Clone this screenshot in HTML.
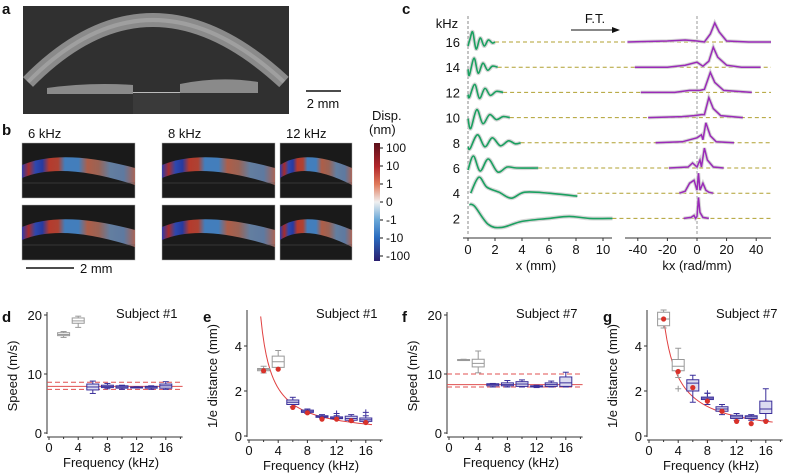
<!DOCTYPE html>
<html><head><meta charset="utf-8"><style>
body{margin:0;background:#fff}
svg{display:block;font-family:"Liberation Sans",sans-serif}
</style></head><body>
<svg id="fig" width="786" height="475" viewBox="0 0 786 475" xmlns="http://www.w3.org/2000/svg">
<defs>
<linearGradient id="cbar" x1="0" y1="0" x2="0" y2="1">
<stop offset="0" stop-color="#5a0f1a"/><stop offset="0.2" stop-color="#b3262b"/><stop offset="0.35" stop-color="#e07a5a"/><stop offset="0.5" stop-color="#f0f0f0"/><stop offset="0.65" stop-color="#6aa8d8"/><stop offset="0.8" stop-color="#2a6cc0"/><stop offset="1" stop-color="#2a1e6e"/>
</linearGradient>
<linearGradient id="stripe" x1="0" y1="0" x2="1" y2="0">
<stop offset="0" stop-color="#3040c0"/><stop offset="0.06" stop-color="#c03030"/><stop offset="0.12" stop-color="#3050c8"/><stop offset="0.18" stop-color="#2840b8"/><stop offset="0.24" stop-color="#d04030"/><stop offset="0.32" stop-color="#c84a38"/><stop offset="0.38" stop-color="#4a90d8"/><stop offset="0.5" stop-color="#4a90d8"/><stop offset="0.58" stop-color="#c86a50"/><stop offset="0.68" stop-color="#b07060"/><stop offset="0.78" stop-color="#7090b8"/><stop offset="0.9" stop-color="#6a8ab8"/><stop offset="1" stop-color="#c07060"/>
</linearGradient>
</defs>
<g id="root"></g>
</svg>
<script>
// ---------- panel c data ----------
const cFreqs = [16,14,12,10,8,6,4,2];
const greenPts = [
 [[0,-4],[0.15,3],[0.35,10],[0.6,-7],[0.9,4],[1.2,-4],[1.5,2],[1.8,-1],[2.0,0]],
 [[0,-2],[0.1,-8],[0.45,9],[0.75,-6],[1.1,4],[1.45,-3],[1.8,1],[2.2,0]],
 [[0,-2],[0.1,-5],[0.5,8],[0.85,-6],[1.25,4],[1.65,-3],[2.1,1],[2.6,0]],
 [[0,-1],[0.2,-11],[0.65,8],[1.1,-6],[1.6,3],[2.1,-2],[2.6,1],[3.1,0]],
 [[0,-4],[0.15,-6],[0.7,8],[1.25,-4],[1.8,5],[2.4,-3],[3.0,2],[3.5,-1],[3.9,0]],
 [[0,-2],[0.4,12],[0.9,-3],[1.5,9],[2.2,-4],[2.9,1],[3.6,0],[5.2,0]],
 [[0.2,0],[0.8,16],[1.4,6],[2.3,1],[3.2,-5],[4.2,1],[6,0],[8.1,-3]],
 [[0.1,14],[0.5,12],[1.5,-6],[2.5,-9],[4,-3],[6,0],[7.5,2],[9,0],[10.7,0]]
];
const purplePts = [
 [[-47,0],[-20,1],[-8,2],[0,1],[5,0],[9,8],[12,19],[15,10],[20,1],[35,0],[50,0]],
 [[-42,0],[-20,0],[-8,2],[0,5],[4,1],[8,6],[11,20],[14,10],[20,2],[30,0],[43,0]],
 [[-38,0],[-15,0],[-5,2],[2,2],[5,3],[9,20],[12,10],[18,2],[37,0]],
 [[-33,0],[-10,1],[-2,2],[3,3],[5,3],[8,20],[11,9],[16,2],[31,0]],
 [[-28,0],[-10,1],[0,5],[3,8],[4,3],[6,20],[9,7],[13,1],[25,0]],
 [[-19,0],[-6,1],[-3,5],[0,1],[2,8],[3,1],[5,20],[7,8],[11,1],[18,0]],
 [[-12,0],[-8,2],[-5,10],[-2,13],[0,3],[1,20],[2,3],[4,10],[6,3],[8,1],[11,0]],
 [[-9,0],[-4,1],[-2,3],[-1,0],[0,2],[1,21],[2,6],[4,1],[8,0]]
];
// ---------- bottom panels data ----------
const freqs = [2,4,6,8,10,12,14,16];
// [whiskerLow, q1, median, q3, whiskerHigh]
const speed1 = [[16.2,16.5,16.7,17.0,17.2],[17.9,18.6,19.0,19.5,19.8],[6.7,7.3,7.8,8.3,8.8],[7.5,7.7,7.9,8.1,8.4],[7.4,7.6,7.8,8.0,8.1],[7.65,7.7,7.75,7.8,7.85],[7.4,7.6,7.8,7.9,8.0],[7.4,7.6,8.0,8.3,8.7]];
const speed1Ref = [7.9,8.6,7.4];
const dist1 = [[2.8,2.9,2.95,3.0,3.1],[3.05,3.05,3.3,3.55,3.8],[1.3,1.4,1.5,1.6,1.72],[1.0,1.05,1.1,1.15,1.2],[0.8,0.83,0.87,0.9,0.95],[0.75,0.77,0.8,0.85,0.9],[0.65,0.7,0.78,0.88,0.95],[0.6,0.65,0.72,0.8,0.9]];
const dist1Out = [[12,1.0],[16,1.05]];
const dist1Dots = [2.9,2.97,1.27,1.03,0.75,0.75,0.68,0.6];
const fit1 = 8.5;
const speed7 = [[12.3,12.35,12.4,12.45,12.5],[10.2,11.2,11.8,12.5,13.9],[7.8,8.0,8.2,8.35,8.4],[7.8,8.0,8.2,8.5,8.9],[7.8,7.9,8.3,8.7,9.0],[7.7,7.8,7.9,8.0,8.1],[7.8,7.9,8.2,8.5,8.8],[7.8,7.9,8.5,9.5,10.3]];
const speed7Ref = [8.2,10.0,7.8];
const dist7 = [[4.8,4.9,5.2,5.5,5.6],[2.6,2.9,3.1,3.4,3.9],[1.5,2.0,2.35,2.5,2.7],[1.4,1.62,1.68,1.73,1.9],[0.95,1.1,1.2,1.3,1.4],[0.7,0.78,0.85,0.92,1.0],[0.7,0.78,0.85,0.9,0.95],[0.7,1.0,1.2,1.55,2.1]];
const dist7Out = [[4,2.1],[8,1.9]];
const dist7Dots = [5.2,2.87,2.15,1.55,1.1,0.65,0.55,0.65];
const fit7 = 10.5;
const xTicks = [0,4,8,12,16];
const xMinor = [2,6,10,14,18];
const speedTicks = [0,10,20];
const distTicks = [0,2,4];
const cXTicks = [0,2,4,6,8,10];
const cKTicks = [-40,-20,0,20,40];
const cbarLabels = ["100","10","1","0","-1","-10","-100"];

const NS="http://www.w3.org/2000/svg";
const root=document.getElementById('root');
function el(tag,attrs,parent,txt){const e=document.createElementNS(NS,tag);for(const k in attrs)e.setAttribute(k,attrs[k]);if(txt!==undefined)e.textContent=txt;(parent||root).appendChild(e);return e;}
function txt(x,y,s,size,anchor,name,extra){const t=el('text',Object.assign({x:x,y:y,'font-size':size,'text-anchor':anchor||'start',fill:'#111'},extra||{}),root,s);


return t;}
function smooth(pts){let d='M'+pts[0][0]+','+pts[0][1];for(let i=0;i<pts.length-1;i++){const p0=pts[i-1]||pts[i],p1=pts[i],p2=pts[i+1],p3=pts[i+2]||p2;
const c1x=p1[0]+(p2[0]-p0[0])/6,c1y=p1[1]+(p2[1]-p0[1])/6,c2x=p2[0]-(p3[0]-p1[0])/6,c2y=p2[1]-(p3[1]-p1[1])/6;d+=' C'+c1x+','+c1y+' '+c2x+','+c2y+' '+p2[0]+','+p2[1];}return d;}

// ---------- panel letters ----------
[['a',2,14],['b',2,135],['c',402,14],['d',2,322],['e',203,322],['f',402,322],['g',603,322]].forEach(p=>{txt(p[1],p[2],p[0],15,'start','panel-label-'+p[0],{'font-weight':'bold'});});

// ---------- panel a ----------
const ga=el('g',{});


el('rect',{x:23,y:6,width:266,height:108,fill:'#303030'},ga);
el('path',{d:'M28,82 Q150,-42 284,82',fill:'none',stroke:'#8a8a8a','stroke-width':14},ga);
el('path',{d:'M28,82 Q150,-42 284,82',fill:'none',stroke:'#bdbdbd','stroke-width':4,opacity:0.4},ga);
el('path',{d:'M47,88 Q90,82 133,85 L133,94 L47,94 Z',fill:'#8a8a8a'},ga);
el('path',{d:'M180,84 Q220,76 258,82 L258,93 L180,93 Z',fill:'#8a8a8a'},ga);
el('rect',{x:133,y:92,width:47,height:1,fill:'#bbb'},ga);
el('rect',{x:133,y:93,width:47,height:21,fill:'#3a3a3a'},ga);
el('line',{x1:306,y1:91,x2:341,y2:91,stroke:'#111','stroke-width':1.5});
txt(323,108,'2 mm',13,'middle','scale-bar-a');

// ---------- panel b ----------
const bCols=[[22,113,'6 kHz'],[162,113,'8 kHz'],[280,72,'12 kHz']];
bCols.forEach((c,ci)=>{txt(c[0]+6,138,c[2],13,'start','freq-label-'+ci);
[143,205].forEach((y,ri)=>{const g=el('g',{});


el('rect',{x:c[0],y:y,width:c[1],height:55,fill:'#1a1a1a',stroke:'#aaa','stroke-width':0.5},g);
const w=c[1];el('path',{d:`M${c[0]},${y+22} Q${c[0]+w*0.35},${y+5} ${c[0]+w},${y+25} L${c[0]+w},${y+42} Q${c[0]+w*0.35},${y+18} ${c[0]},${y+35} Z`,fill:'url(#stripe)',opacity:0.85},g);
el('line',{x1:c[0],y1:y+40,x2:c[0]+w,y2:y+40,stroke:'#555','stroke-width':0.6},g);});});
el('line',{x1:26,y1:268,x2:74,y2:268,stroke:'#111','stroke-width':1.5});
txt(80,273,'2 mm',13,'start','scale-bar-b');
el('rect',{x:374,y:143,width:6,height:118,fill:'url(#cbar)'});
txt(372,120,'Disp.',13,'start','colorbar-title');
txt(369,134,'(nm)',13,'start','colorbar-unit');
cbarLabels.forEach((s,i)=>{const y=148+i*18;el('line',{x1:380,y1:y,x2:383,y2:y,stroke:'#111'});txt(386,y+4,s,12,'start','colorbar-tick');});

// ---------- panel c ----------
const cx0=468,cxs=13.5,kx0=697,kxs=1.48,rowY0=42,rowDy=25.2;
const xs=v=>cx0+v*cxs, ks=v=>kx0+v*kxs;
txt(447,28,'kHz',13,'middle','khz-label');
el('line',{x1:cx0,y1:16,x2:cx0,y2:236,stroke:'#888','stroke-dasharray':'3,2'});
el('line',{x1:kx0,y1:16,x2:kx0,y2:236,stroke:'#999','stroke-dasharray':'3,2'});
el('line',{x1:571,y1:30,x2:614,y2:30,stroke:'#111'});
el('path',{d:'M620,30 L612,27 L612,33 Z',fill:'#111'});
txt(595,23,'F.T.',13,'middle','ft-label');
cFreqs.forEach((f,i)=>{const y=rowY0+i*rowDy;
txt(460,y+5,String(f),13,'end','row-label-'+f);
const gp=greenPts[i];const pp=purplePts[i];
el('line',{x1:xs(gp[gp.length-1][0]),y1:y,x2:771,y2:y,stroke:'#b0a030','stroke-width':1,'stroke-dasharray':'4,3'});
const gpx=gp.map(p=>[xs(p[0]),y-p[1]]);
el('path',{d:smooth(gpx),fill:'none',stroke:'#ccc','stroke-width':4,opacity:0.8});
const gl=el('path',{d:smooth(gpx),fill:'none',stroke:'#1aa060','stroke-width':1.6});


const ppx=pp.map(p=>[ks(p[0]),y-p[1]]);
el('path',{d:'M'+ppx.map(p=>p.join(',')).join(' L'),fill:'none',stroke:'#ccc','stroke-width':3.5,opacity:0.8});
const pl=el('path',{d:'M'+ppx.map(p=>p.join(',')).join(' L'),fill:'none',stroke:'#9a2ab8','stroke-width':1.5});

});
el('line',{x1:463,y1:238,x2:612,y2:238,stroke:'#333'});
cXTicks.forEach(v=>{el('line',{x1:xs(v),y1:238,x2:xs(v),y2:241,stroke:'#333'});txt(xs(v),254,String(v),13,'middle','x-tick');});
txt(536,270,'x (mm)',13,'middle','x-axis-title');
el('line',{x1:625,y1:238,x2:771,y2:238,stroke:'#333'});
cKTicks.forEach(v=>{el('line',{x1:ks(v),y1:238,x2:ks(v),y2:241,stroke:'#333'});txt(ks(v),254,String(v),13,'middle','k-tick');});
txt(697,270,'kx (rad/mm)',13,'middle','k-axis-title');

// ---------- bottom panels ----------
function boxPanel(o){
 const X=v=>o.x0+v*7.3, Y=v=>o.y0-v*o.sy;
 el('line',{x1:o.x0-2,y1:o.top,x2:o.x0-2,y2:o.y0+1,stroke:'#333'});
 o.yt.forEach(v=>{el('line',{x1:o.x0-5,y1:Y(v),x2:o.x0-2,y2:Y(v),stroke:'#333'});txt(o.x0-7,Y(v)+5,String(v),13,'end','y-tick');});
 const ax=o.y0+4;
 el('line',{x1:o.x0-2,y1:ax,x2:X(18.3),y2:ax,stroke:'#333'});
 xTicks.forEach(v=>{el('line',{x1:X(v),y1:ax,x2:X(v),y2:ax+3,stroke:'#333'});txt(X(v),ax+15,String(v),13,'middle','x-tick');});
 xMinor.forEach(v=>{el('line',{x1:X(v),y1:ax,x2:X(v),y2:ax+2,stroke:'#333'});});
 txt(X(8.5),ax+30,'Frequency (kHz)',13,'middle','x-axis-title');
 txt(o.x0-32,376,o.ylab,13,'middle','y-axis-title',{transform:`rotate(-90 ${o.x0-32} 376)`});
 txt(X(17.6),318,o.subj,13,'end','subject-label');
 if(o.ref){o.ref.forEach((v,i)=>{el('line',{x1:o.x0-2,y1:Y(v),x2:X(18.3),y2:Y(v),stroke:'#e05050','stroke-width':1,'stroke-dasharray':i?'5,3':''});});}
 if(o.fit){const pts=[];for(let f=o.fitStart;f<=17;f+=0.25){pts.push([X(f),Math.max(o.top,Y(o.fit/f))]);}
  const fl=el('path',{d:'M'+pts.map(p=>p.join(',')).join(' L'),fill:'none',stroke:'#e04040','stroke-width':1});
  
  }
 o.boxes.forEach((b,i)=>{const f=freqs[i],gray=i<2,c=gray?'#999':'#3b2f9a',cx=X(f),w=6;
  const g=el('g',{});
  
  
  el('line',{x1:cx,y1:Math.max(o.top,Y(b[4])),x2:cx,y2:Y(b[0]),stroke:c},g);
  [b[0],b[4]].forEach(v=>{if(Y(v)>=o.top)el('line',{x1:cx-3,y1:Y(v),x2:cx+3,y2:Y(v),stroke:c},g);});
  const yt=Math.max(o.top,Y(b[3]));
  el('rect',{x:cx-w,y:yt,width:2*w,height:Math.max(1,Y(b[1])-yt),fill:gray?'#fff':'#dcdcf0',stroke:c},g);
  el('line',{x1:cx-w,y1:Y(b[2]),x2:cx+w,y2:Y(b[2]),stroke:c},g);});
 (o.out||[]).forEach(p=>{const c=p[0]<5?'#999':'#3b2f9a';el('path',{d:`M${X(p[0])-3},${Y(p[1])} h6 M${X(p[0])},${Y(p[1])-3} v6`,stroke:c});});
 (o.dots||[]).forEach((v,i)=>{const d=el('circle',{cx:X(freqs[i]),cy:Y(v),r:2.6,fill:'#d8322a'});
  
  });
}
boxPanel({x0:49,y0:433,sy:5.9,top:312,yt:speedTicks,ylab:'Speed (m/s)',subj:'Subject #1',boxes:speed1,ref:speed1Ref});
boxPanel({x0:249,y0:436,sy:22.5,top:310,yt:distTicks,ylab:'1/e distance (mm)',subj:'Subject #1',boxes:dist1,out:dist1Out,dots:dist1Dots,fit:fit1,fitStart:1.6});
boxPanel({x0:449,y0:433,sy:5.9,top:312,yt:speedTicks,ylab:'Speed (m/s)',subj:'Subject #7',boxes:speed7,ref:speed7Ref});
boxPanel({x0:649,y0:436,sy:22.5,top:310,yt:distTicks,ylab:'1/e distance (mm)',subj:'Subject #7',boxes:dist7,out:dist7Out,dots:dist7Dots,fit:fit7,fitStart:1.95});
</script>
</body></html>
